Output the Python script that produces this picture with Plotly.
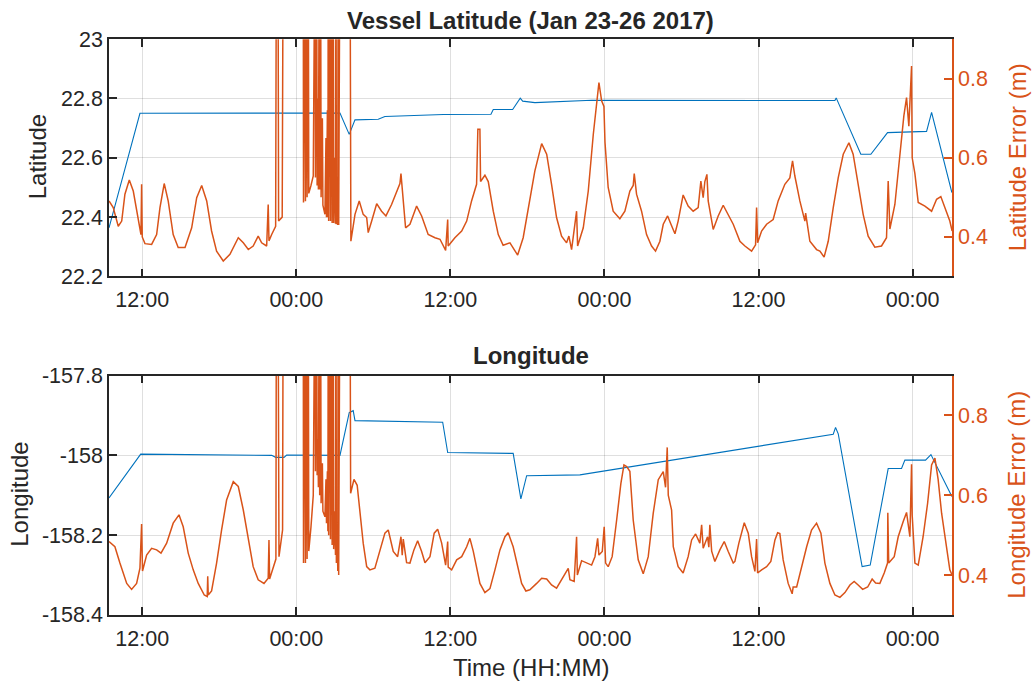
import pandas as pd
import plotly.graph_objects as go

# ---------------- data (hours since 2017-01-23 00:00) ----------------
lat_hours = [9.41, 11.82, 27.40, 28.12, 28.57, 30.38, 30.90, 35.44, 35.46, 39.16, 39.34, 40.85,
             41.44, 41.63, 42.19, 42.58, 47.02, 65.95, 66.05, 67.97, 68.75, 70.05, 73.09,
             73.48, 75.06]
lat_values = [22.364, 22.750, 22.751, 22.679, 22.728, 22.730, 22.739, 22.744, 22.746, 22.747,
              22.763, 22.763, 22.801, 22.791, 22.788, 22.786, 22.794, 22.793, 22.802, 22.612,
              22.612, 22.685, 22.689, 22.753, 22.483]

lat_err_hours = [9.41, 9.74, 10.13, 10.40, 10.65, 10.99, 11.30, 11.69, 11.90, 11.95, 12.00,
                 12.21, 12.73, 13.12, 13.38, 13.71, 14.02, 14.41, 14.80, 15.33, 15.85, 16.24,
                 16.63, 17.02, 17.40, 17.79, 18.31, 18.83, 19.48, 19.87, 20.26, 20.64, 21.03,
                 21.30, 21.69, 21.81, 21.87, 22.08, 22.39, 22.45, 22.57, 22.62, 22.90, 22.98,
                 23.74,
                 24.54, 24.56, 24.67, 24.71, 24.80, 24.84, 24.93, 24.97, 25.14, 25.32, 25.45,
                 25.49, 25.58, 25.62, 25.68, 25.72, 25.79, 25.82, 25.89, 25.93, 26.03, 26.07,
                 26.23, 26.31, 26.35, 26.42, 26.46, 26.49, 26.52, 26.62, 26.66, 26.75, 26.79,
                 26.88, 26.91, 27.01, 27.05, 27.09, 27.12, 27.19, 27.23, 27.26, 27.30, 27.40,
                 27.79, 28.18,
                 28.25, 28.57, 28.90, 29.21, 29.48, 29.60, 29.87, 30.26, 30.64, 30.98, 31.42,
                 31.81, 32.07, 32.15, 32.25, 32.51, 32.85, 33.37, 33.76, 34.27, 34.80, 35.19,
                 35.63, 35.79, 35.83, 36.35, 36.88, 37.27, 37.65, 38.04, 38.14, 38.30, 38.35,
                 38.69, 38.95, 39.34, 39.73, 40.11, 40.64, 40.89, 41.24, 41.67, 42.19, 42.58,
                 43.11, 43.50, 43.88, 44.27, 44.66, 45.05, 45.23, 45.44, 45.83, 45.91, 46.35,
                 46.74, 47.13, 47.39, 47.57, 47.78, 47.96, 48.04, 48.29, 48.68, 49.20, 49.59,
                 49.98, 50.24, 50.32, 50.50, 50.89, 51.28, 51.67, 51.98, 52.32, 52.58, 52.92,
                 53.18, 53.49, 53.74, 54.13, 54.52, 54.91, 55.30, 55.51, 55.69, 55.82, 55.98,
                 56.08, 56.47, 56.86, 57.25, 57.64, 58.03, 58.55, 58.94, 59.46, 59.77, 59.85,
                 59.93, 60.24, 60.63, 61.14, 61.53, 62.05, 62.44, 62.65, 62.83, 63.22, 63.61,
                 63.67, 64.00, 64.52, 64.78, 65.11, 65.43, 65.82, 66.21, 66.60, 67.04, 67.37,
                 67.76, 68.15, 68.54, 69.06, 69.58, 69.97, 70.10, 70.23, 70.62, 71.01, 71.32,
                 71.53, 71.71, 71.92, 71.97, 72.18, 72.44, 72.96, 73.48, 73.87, 74.20, 74.52,
                 74.90, 75.08]
lat_err_values = [0.491, 0.474, 0.427, 0.440, 0.508, 0.544, 0.516, 0.440, 0.406, 0.533, 0.400,
                  0.383, 0.381, 0.406, 0.474, 0.535, 0.491, 0.406, 0.373, 0.373, 0.423, 0.499,
                  0.530, 0.491, 0.415, 0.364, 0.339, 0.356, 0.398, 0.385, 0.368, 0.377, 0.402,
                  0.385, 0.377, 0.482, 0.390, 0.406, 0.427, 1.2, 1.2, 0.440, 0.450, 1.2,
                  1.3,
                  1.2, 0.487, 1.2, 0.490, 1.2, 0.500, 1.2, 0.510, 0.530, 0.554, 1.2,
                  0.550, 1.2, 0.530, 0.750, 0.520, 1.2, 0.520, 1.2, 0.500, 0.700, 0.480,
                  0.457, 0.650, 0.450, 0.720, 0.450, 1.2, 0.440, 1.2, 0.440, 1.2, 0.435,
                  1.2, 0.435, 0.600, 0.433, 1.2, 0.432, 0.550, 0.430, 1.2, 0.430, 1.2,
                  1.3, 1.2,
                  0.389, 0.457, 0.491, 0.457, 0.449, 0.411, 0.440, 0.484, 0.465, 0.453, 0.482,
                  0.516, 0.535, 0.560, 0.516, 0.423, 0.432, 0.478, 0.453, 0.406, 0.398, 0.394,
                  0.366, 0.444, 0.377, 0.398, 0.415, 0.440, 0.491, 0.533, 0.672, 0.672, 0.540,
                  0.556, 0.540, 0.465, 0.406, 0.379, 0.385, 0.373, 0.354, 0.398, 0.491, 0.567,
                  0.636, 0.609, 0.533, 0.449, 0.402, 0.385, 0.402, 0.368, 0.465, 0.377, 0.423,
                  0.516, 0.659, 0.744, 0.790, 0.744, 0.730, 0.640, 0.525, 0.465, 0.446, 0.465,
                  0.516, 0.530, 0.560, 0.508, 0.465, 0.406, 0.377, 0.364, 0.389, 0.432, 0.453,
                  0.432, 0.408, 0.440, 0.506, 0.478, 0.465, 0.474, 0.541, 0.499, 0.540, 0.558,
                  0.491, 0.419, 0.453, 0.480, 0.457, 0.432, 0.389, 0.377, 0.364, 0.380, 0.474,
                  0.385, 0.415, 0.432, 0.444, 0.491, 0.533, 0.549, 0.592, 0.554, 0.491, 0.440,
                  0.460, 0.389, 0.368, 0.364, 0.349, 0.389, 0.474, 0.550, 0.609, 0.638, 0.609,
                  0.533, 0.457, 0.402, 0.374, 0.377, 0.398, 0.541, 0.420, 0.482, 0.609, 0.706,
                  0.752, 0.680, 0.832, 0.600, 0.560, 0.487, 0.478, 0.465, 0.495, 0.502, 0.474,
                  0.440, 0.415]

lon_hours = [9.41, 11.88, 22.08, 22.39, 23.04, 23.25, 27.40, 28.12, 28.43, 28.57, 35.40, 35.79,
             40.77, 40.89, 41.49, 41.94, 46.09, 65.82, 66.00, 66.21, 68.07, 68.70, 70.10,
             71.14, 71.40, 73.01, 73.43, 75.06]
lon_values = [-158.107, -157.997, -158.000, -158.005, -158.005, -157.999, -158.000, -157.893,
              -157.888, -157.913, -157.917, -157.993, -157.995, -157.995, -158.109, -158.051,
              -158.049, -157.947, -157.930, -157.946, -158.279, -158.275, -158.033, -158.033,
              -158.012, -158.012, -157.998, -158.103]

lon_err_hours = [9.41, 9.87, 10.26, 10.79, 11.17, 11.56, 11.82, 11.95, 12.02, 12.34, 12.73,
                 13.12, 13.46, 13.90, 14.41, 14.86, 15.19, 15.58, 15.97, 16.36, 16.83, 17.06,
                 17.10, 17.14, 17.40, 17.79, 18.18, 18.57, 19.09, 19.48, 19.87, 20.26, 20.64,
                 21.03, 21.48, 21.81, 21.87, 21.92, 22.20, 22.41, 22.45, 22.57, 22.65, 22.93,
                 22.98, 23.74,
                 24.54, 24.56, 24.67, 24.71, 24.80, 24.84, 24.93, 24.97, 25.14, 25.32, 25.45,
                 25.49, 25.58, 25.62, 25.68, 25.72, 25.79, 25.82, 25.89, 25.93, 26.03, 26.07,
                 26.23, 26.31, 26.35, 26.42, 26.46, 26.49, 26.52, 26.62, 26.66, 26.75, 26.79,
                 26.88, 26.91, 27.01, 27.05, 27.09, 27.12, 27.19, 27.23, 27.26, 27.30, 27.40,
                 27.79, 28.18,
                 28.23, 28.49, 28.74, 28.95, 29.21, 29.48, 29.73, 30.12, 30.51, 30.90, 31.16,
                 31.55, 31.89, 32.15, 32.25, 32.33, 32.59, 32.85, 33.16, 33.45, 33.76, 34.02,
                 34.41, 34.74, 35.01, 35.32, 35.63, 35.79, 35.83, 36.10, 36.49, 36.88, 37.27,
                 37.52, 37.78, 38.04, 38.30, 38.69, 39.08, 39.47, 39.86, 40.25, 40.50, 40.89,
                 41.16, 41.55, 41.88, 42.19, 42.72, 43.11, 43.50, 43.88, 44.27, 44.66, 45.05,
                 45.18, 45.31, 45.64, 45.83, 45.89, 46.22, 46.61, 47.00, 47.26, 47.47, 47.57,
                 47.83, 47.98, 48.09, 48.29, 48.60, 48.95, 49.28, 49.52, 49.73, 49.98, 50.24,
                 50.63, 51.02, 51.41, 51.80, 52.19, 52.58, 52.76, 52.89, 52.97, 53.23, 53.36,
                 53.74, 54.13, 54.52, 54.79, 55.10, 55.43, 55.57, 55.69, 56.03, 56.13, 56.21,
                 56.35, 56.60, 56.99, 57.33, 57.64, 58.03, 58.16, 58.47, 58.89, 59.20, 59.46,
                 59.72, 59.85, 59.93, 60.24, 60.63, 60.96, 61.28, 61.49, 61.66, 61.92, 62.31,
                 62.62, 62.70, 62.97, 63.36, 63.75, 64.13, 64.52, 64.86, 65.17, 65.56, 65.95,
                 66.34, 66.73, 67.12, 67.45, 67.76, 68.11, 68.50, 68.85, 69.12, 69.45, 69.79,
                 70.05, 70.07, 70.14, 70.57, 70.88, 71.27, 71.53, 71.79, 71.92, 71.97, 72.18,
                 72.44, 72.82, 73.17, 73.48, 73.74, 73.99, 74.26, 74.59, 74.90, 75.08]
lon_err_values = [0.484, 0.471, 0.430, 0.379, 0.364, 0.379, 0.417, 0.528, 0.410, 0.450, 0.467,
                  0.463, 0.455, 0.480, 0.530, 0.551, 0.521, 0.455, 0.413, 0.379, 0.350, 0.346,
                  0.397, 0.350, 0.360, 0.430, 0.513, 0.588, 0.634, 0.622, 0.563, 0.488, 0.421,
                  0.388, 0.379, 0.392, 0.488, 0.390, 0.421, 0.440, 1.2, 1.2, 0.446, 0.513,
                  1.2, 1.3,
                  1.2, 0.430, 1.2, 0.430, 1.2, 0.440, 1.2, 0.460, 0.520, 0.600, 1.2,
                  0.660, 1.2, 0.650, 0.740, 0.620, 1.2, 0.600, 1.2, 0.580, 0.680, 0.560,
                  0.546, 0.640, 0.530, 0.660, 0.510, 1.2, 0.500, 1.2, 0.490, 1.2, 0.475,
                  1.2, 0.465, 0.560, 0.450, 1.2, 0.430, 0.500, 0.410, 1.2, 0.400, 1.2,
                  1.3, 1.2,
                  0.605, 0.640, 0.625, 0.563, 0.480, 0.421, 0.413, 0.417, 0.463, 0.505, 0.513,
                  0.459, 0.446, 0.496, 0.450, 0.490, 0.431, 0.430, 0.463, 0.486, 0.459, 0.431,
                  0.446, 0.505, 0.515, 0.480, 0.425, 0.484, 0.420, 0.413, 0.438, 0.446, 0.471,
                  0.492, 0.460, 0.421, 0.379, 0.356, 0.366, 0.413, 0.463, 0.496, 0.506, 0.471,
                  0.430, 0.379, 0.360, 0.363, 0.379, 0.392, 0.390, 0.375, 0.367, 0.388, 0.409,
                  0.417, 0.388, 0.384, 0.496, 0.400, 0.436, 0.430, 0.425, 0.446, 0.492, 0.450,
                  0.459, 0.521, 0.430, 0.421, 0.446, 0.538, 0.630, 0.676, 0.672, 0.660, 0.538,
                  0.438, 0.403, 0.446, 0.555, 0.639, 0.659, 0.620, 0.720, 0.600, 0.563, 0.471,
                  0.421, 0.405, 0.446, 0.488, 0.503, 0.480, 0.526, 0.467, 0.496, 0.470, 0.526,
                  0.460, 0.434, 0.463, 0.484, 0.459, 0.430, 0.434, 0.480, 0.531, 0.505, 0.446,
                  0.409, 0.490, 0.405, 0.413, 0.421, 0.434, 0.488, 0.506, 0.504, 0.438, 0.379,
                  0.353, 0.370, 0.370, 0.421, 0.471, 0.513, 0.530, 0.505, 0.430, 0.379, 0.350,
                  0.344, 0.356, 0.375, 0.384, 0.375, 0.364, 0.370, 0.390, 0.380, 0.379, 0.405,
                  0.430, 0.556, 0.430, 0.446, 0.496, 0.534, 0.557, 0.496, 0.678, 0.550, 0.430,
                  0.425, 0.496, 0.580, 0.676, 0.693, 0.640, 0.555, 0.480, 0.413, 0.400]

lat_ticks = [22.2, 22.4, 22.6, 22.8, 23.0]
lat_ticktext = ["22.2", "22.4", "22.6", "22.8", "23"]
lon_ticks = [-158.4, -158.2, -158.0, -157.8]
lon_ticktext = ["-158.4", "-158.2", "-158", "-157.8"]
err_ticks = [0.4, 0.6, 0.8]
err_ticktext = ["0.4", "0.6", "0.8"]

# ---------------- styling ----------------
BASE = pd.Timestamp("2017-01-23")
BLUE = "#0072BD"
ORANGE = "#D95319"
DARK = "#262626"
GRID = "rgba(38,38,38,0.15)"
FONT = "Liberation Sans, Arial, Helvetica, sans-serif"
W, H = 1033, 700
# empirical mapping from page pixels to the photographed picture (page margin removed)
XOFF = 0
YOFF, YS = 11.9, 0.9644


def to_time(hours):
    return BASE + pd.to_timedelta(pd.Series(hours), unit="h")


def xd(px):
    return (px - XOFF) / W


def ypaper(py):
    return (py - YOFF) / YS


def yd(py):
    return 1 - ypaper(py) / H


fig = go.Figure()
fig.add_trace(go.Scatter(x=to_time(lat_hours), y=lat_values, mode="lines",
                         line=dict(color=BLUE, width=1.1), xaxis="x", yaxis="y",
                         showlegend=False))
fig.add_trace(go.Scatter(x=to_time(lat_err_hours), y=lat_err_values, mode="lines",
                         line=dict(color=ORANGE, width=1.5), xaxis="x", yaxis="y2",
                         showlegend=False))
fig.add_trace(go.Scatter(x=to_time(lon_hours), y=lon_values, mode="lines",
                         line=dict(color=BLUE, width=1.1), xaxis="x2", yaxis="y3",
                         showlegend=False))
fig.add_trace(go.Scatter(x=to_time(lon_err_hours), y=lon_err_values, mode="lines",
                         line=dict(color=ORANGE, width=1.5), xaxis="x2", yaxis="y4",
                         showlegend=False))

xdom = [xd(109), xd(952)]
top_dom = [yd(277), yd(40)]
bot_dom = [yd(615), yd(376)]
xrange = [BASE + pd.Timedelta(hours=9.41), BASE + pd.Timedelta(hours=75.07)]

TICKF = 21.5
xcommon = dict(type="date", range=xrange, domain=xdom, tickformat="%H:%M",
               tick0=BASE + pd.Timedelta(hours=12), dtick=12 * 3600 * 1000,
               showline=True, linecolor=DARK, linewidth=1.6, mirror="ticks",
               ticks="inside", ticklen=8, tickwidth=1.6, tickcolor=DARK,
               ticklabelstandoff=3,
               showgrid=True, gridcolor=GRID, gridwidth=1, zeroline=False,
               tickfont=dict(family=FONT, size=TICKF, color=DARK))
ycommon = dict(showline=True, linecolor=DARK, linewidth=1.6, mirror=False,
               ticks="inside", ticklen=8, tickwidth=1.6, tickcolor=DARK,
               showgrid=True, gridcolor=GRID, gridwidth=1, zeroline=False,
               tickfont=dict(family=FONT, size=TICKF, color=DARK))
ecommon = dict(side="right", range=[0.3, 0.9], tickvals=err_ticks, ticktext=err_ticktext,
               showline=True, linecolor=ORANGE, linewidth=1.6, ticks="inside", ticklen=8,
               tickwidth=1.6, tickcolor=ORANGE, showgrid=False, zeroline=False,
               tickfont=dict(family=FONT, size=TICKF, color=ORANGE))

fig.update_layout(
    width=W, height=H, paper_bgcolor="white", plot_bgcolor="white",
    margin=dict(l=0, r=0, t=0, b=0),
    hovermode=False,
    xaxis=dict(anchor="y", **xcommon),
    xaxis2=dict(anchor="y3", **xcommon),
    yaxis=dict(anchor="x", domain=top_dom, range=[22.2, 23.0], tickvals=lat_ticks,
               ticktext=lat_ticktext, **ycommon),
    yaxis2=dict(anchor="x", overlaying="y", **ecommon),
    yaxis3=dict(anchor="x2", domain=bot_dom, range=[-158.4, -157.8], tickvals=lon_ticks,
                ticktext=lon_ticktext, **ycommon),
    yaxis4=dict(anchor="x2", overlaying="y3", **ecommon),
    font=dict(family=FONT, color=DARK),
)


def px_ann(text, x, y, size, color=DARK, angle=0):
    fig.add_annotation(text=text, x=xd(x), y=yd(y), xref="paper", yref="paper",
                       xanchor="center", yanchor="middle", showarrow=False, textangle=angle,
                       font=dict(family=FONT, size=size, color=color))


px_ann("<b>Vessel Latitude (Jan 23-26 2017)</b>", 530.5, 21, 24)
px_ann("<b>Longitude</b>", 530.5, 356, 24)
px_ann("Latitude", 37, 158, 24, angle=-90)
px_ann("Longitude", 20, 495, 24, angle=-90)
px_ann("Latitude Error (m)", 1017, 158, 24, color=ORANGE, angle=-90)
px_ann("Longitude Error (m)", 1017, 495, 24, color=ORANGE, angle=-90)
px_ann("Time (HH:MM)", 530.5, 668, 24)

fig.write_html("out.html",
               config={"displayModeBar": False},
               post_script="document.body.style.margin='0px';"
                           "document.body.style.overflow='hidden';")
